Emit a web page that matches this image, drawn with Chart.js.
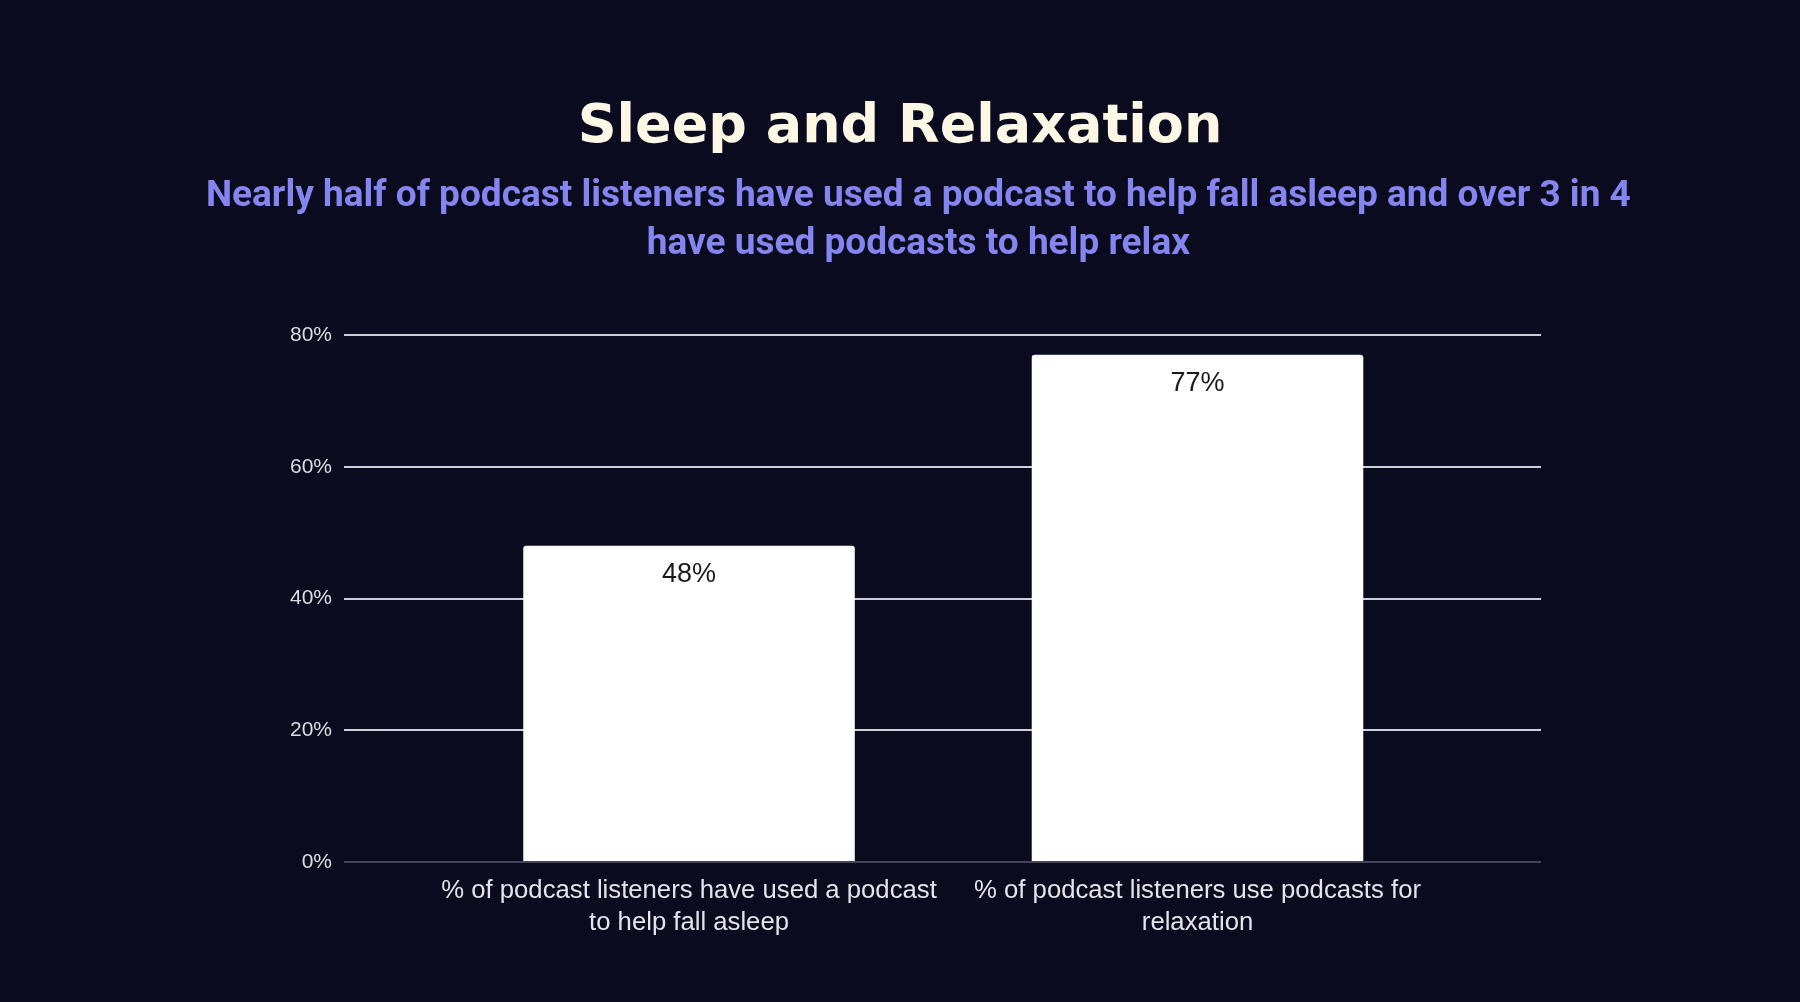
<!DOCTYPE html>
<html>
<head>
<meta charset="utf-8">
<title>Sleep and Relaxation</title>
<script src="https://cdn.jsdelivr.net/npm/chart.js@4.4.1/dist/chart.umd.min.js"></script>
<style>
  html, body { margin: 0; padding: 0; background: #0b0b20; }
  #wrap { width: 1800px; height: 1002px; position: relative; }
</style>
</head>
<body>
<div id="wrap"><canvas id="sleepChart"></canvas></div>
<script>
// chart data
const categories = [
  ['% of podcast listeners have used a podcast', 'to help fall asleep'],
  ['% of podcast listeners use podcasts for', 'relaxation']
];
const shares = [48, 77];
const yTicks = [0, 20, 40, 60, 80];

const titleText = 'Sleep and Relaxation';
const subtitleLines = [
  'Nearly half of podcast listeners have used a podcast to help fall asleep and over 3 in 4',
  'have used podcasts to help relax'
];

// the subtitle sits a little right of the title in the original
const nudge = '\u00a0\u00a0\u00a0\u00a0';

// draws the % inside the top of each bar
const barValueLabels = {
  id: 'barValueLabels',
  afterDatasetsDraw(chart) {
    const { ctx } = chart;
    const meta = chart.getDatasetMeta(0);
    ctx.save();
    ctx.font = '27px "Liberation Sans", Arial, sans-serif';
    ctx.fillStyle = '#1a1a1a';
    ctx.textAlign = 'center';
    ctx.textBaseline = 'middle';
    meta.data.forEach((bar, i) => {
      ctx.fillText(shares[i] + '%', bar.x, bar.y + 29);
    });
    ctx.restore();
  }
};

const ctx = document.getElementById('sleepChart').getContext('2d');
new Chart(ctx, {
  type: 'bar',
  data: {
    datasets: [{
      label: 'Share',
      data: shares.map((v, i) => ({ x: i, y: v })),
      backgroundColor: '#ffffff',
      borderWidth: 0,
      borderRadius: { topLeft: 3, topRight: 3 },
      borderSkipped: 'bottom',
      barPercentage: 0.652,
      categoryPercentage: 1
    }]
  },
  options: {
    responsive: true,
    maintainAspectRatio: false,
    animation: false,
    layout: { padding: { left: 0, right: 0, top: 0, bottom: 30 } },
    plugins: {
      legend: { display: false },
      tooltip: { enabled: false },
      title: {
        display: true,
        text: titleText,
        color: '#fdf7e6',
        font: { family: '"DejaVu Sans", sans-serif', size: 54, weight: 'bold', lineHeight: 1.2 },
        padding: { top: 96, bottom: 12 }
      },
      subtitle: {
        display: true,
        text: subtitleLines.map(l => nudge + l),
        color: '#8585f0',
        font: { family: 'Roboto, sans-serif', size: 37, weight: 'bold', lineHeight: 1.3 },
        padding: { top: 0, bottom: 66 }
      }
    },
    scales: {
      x: {
        type: 'linear',
        offset: false,
        min: -0.6785,
        max: 1.6755,
        bounds: 'data',
        afterBuildTicks: (scale) => {
          scale.ticks = categories.map((c, i) => ({ value: i }));
        },
        afterFit: (scale) => { scale.height = 110; },
        grid: { display: false, drawTicks: false, offset: false },
        border: { display: false },
        ticks: {
          autoSkip: false,
          maxRotation: 0,
          padding: 13,
          color: '#e4e4ea',
          font: { family: '"Liberation Sans", Arial, sans-serif', size: 25.7, lineHeight: 1.24 },
          callback: (v) => categories[v] || ''
        }
      },
      y: {
        min: yTicks[0],
        max: yTicks[yTicks.length - 1],
        afterBuildTicks: (scale) => {
          scale.ticks = yTicks.map(v => ({ value: v }));
        },
        afterFit: (scale) => { scale.width = 344; },
        border: { display: false },
        grid: {
          drawTicks: false,
          lineWidth: 2,
          color: (c) => c.tick && c.tick.value === 0 ? '#45455a' : '#cfcfd8'
        },
        ticks: {
          padding: 12,
          color: '#dcdce2',
          font: { family: '"Liberation Sans", Arial, sans-serif', size: 21 },
          callback: (v) => v + '%'
        }
      },
      // empty right-hand axis that only reserves the right margin
      yRight: {
        position: 'right',
        display: true,
        afterFit: (scale) => { scale.width = 259; },
        grid: { display: false, drawTicks: false },
        border: { display: false },
        ticks: { display: false }
      }
    }
  },
  plugins: [barValueLabels]
});
</script>
</body>
</html>
